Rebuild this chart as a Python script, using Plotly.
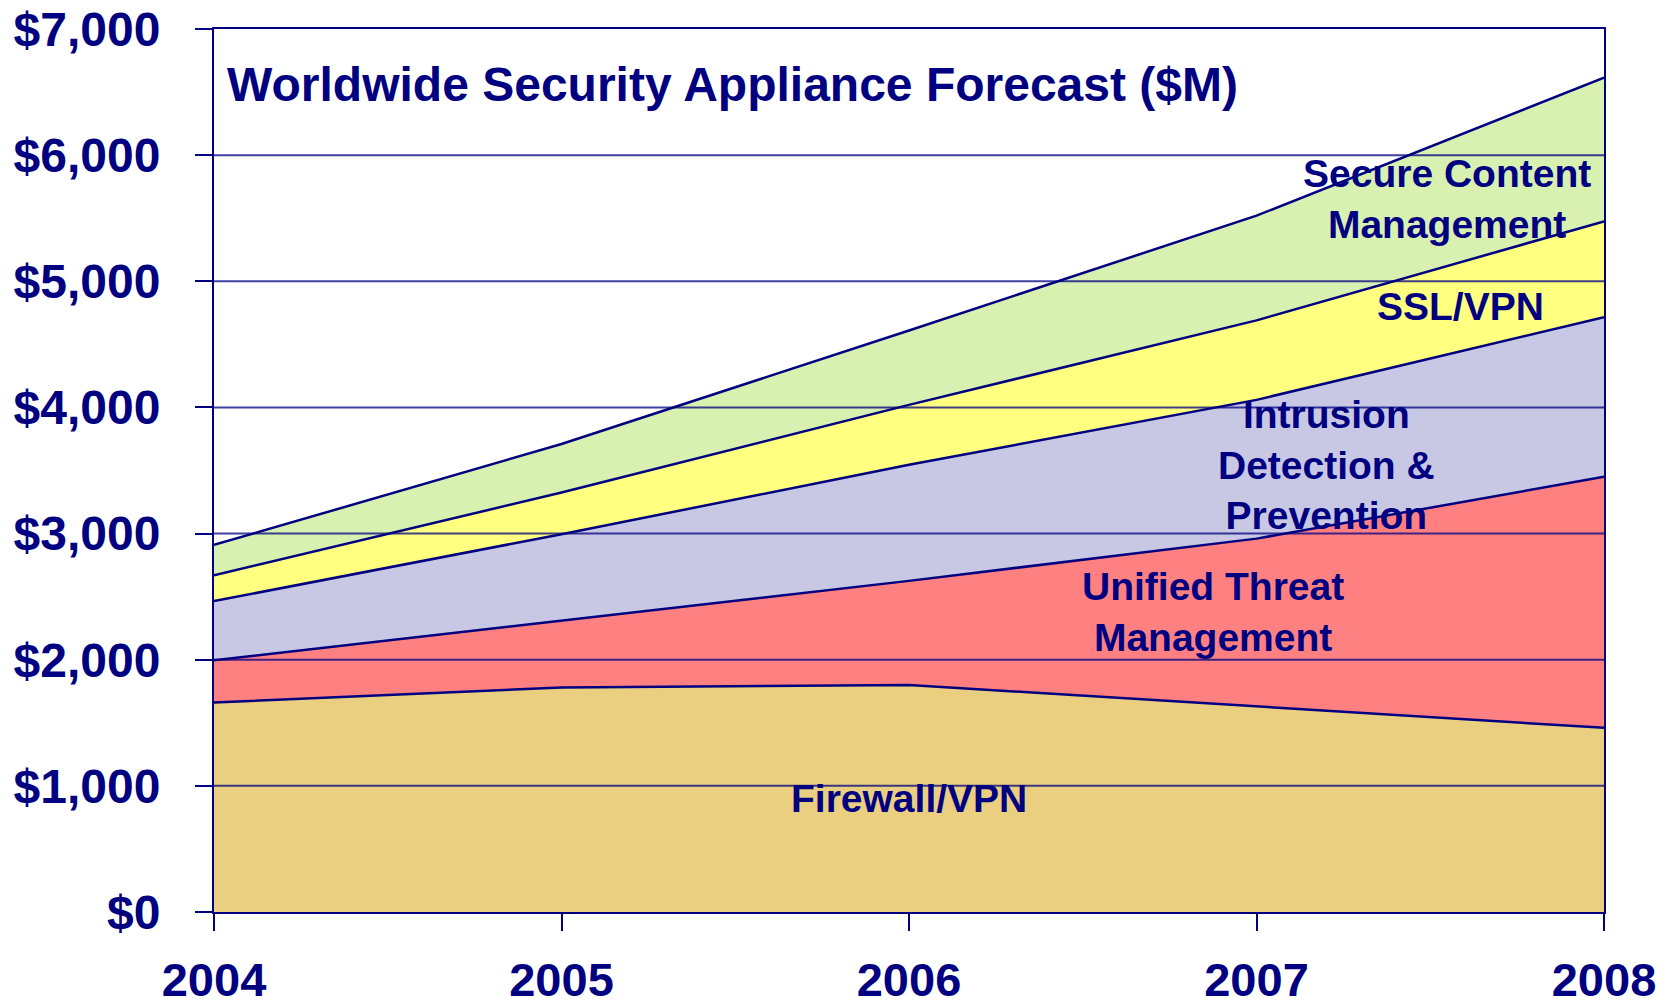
import plotly.graph_objects as go

# Worldwide security appliance revenue forecast, $M, stacked by segment
years = [2004, 2005, 2006, 2007, 2008]
firewall_vpn = [1660, 1780, 1800, 1630, 1460]
unified_threat_mgmt = [335, 530, 825, 1330, 1990]
intrusion_det_prev = [470, 685, 920, 1100, 1265]
ssl_vpn = [205, 330, 475, 630, 760]
secure_content_mgmt = [240, 385, 590, 830, 1140]

y_tick_values = [0, 1000, 2000, 3000, 4000, 5000, 6000, 7000]
y_tick_labels = ["$0", "$1,000", "$2,000", "$3,000", "$4,000", "$5,000", "$6,000", "$7,000"]
x_tick_labels = ["2004", "2005", "2006", "2007", "2008"]

NAVY = "#000080"
FONT = "Liberation Sans, Arial, sans-serif"

series = [
    ("Firewall/VPN", firewall_vpn, "#EBCF80"),
    ("Unified Threat Management", unified_threat_mgmt, "#FF8080"),
    ("Intrusion Detection & Prevention", intrusion_det_prev, "#C8C8E4"),
    ("SSL/VPN", ssl_vpn, "#FFFF80"),
    ("Secure Content Management", secure_content_mgmt, "#D8F0B0"),
]

fig = go.Figure()
for name, values, color in series:
    fig.add_trace(go.Scatter(
        x=years, y=values, name=name,
        mode="lines", stackgroup="forecast",
        line=dict(color=NAVY, width=2.5),
        fillcolor=color,
        showlegend=False,
    ))

# Horizontal grid drawn over the filled bands
for v in y_tick_values[1:-1]:
    fig.add_shape(type="line", xref="paper", x0=0, x1=1, yref="y", y0=v, y1=v,
                  line=dict(color="rgba(0,0,128,0.75)", width=2), layer="above")

# Segment labels placed inside their bands
band_labels = [
    ("Firewall/VPN", 2006.0, 900),
    ("Unified Threat<br>Management", 2006.875, 2380),
    ("Intrusion<br>Detection &amp;<br>Prevention", 2007.2, 3540),
    ("SSL/VPN", 2007.586, 4800),
    ("Secure Content<br>Management", 2007.548, 5655),
]
for text, x, y in band_labels:
    fig.add_annotation(x=x, y=y, xref="x", yref="y", text=text, showarrow=False,
                       xanchor="center", yanchor="middle", align="center",
                       font=dict(family=FONT, size=39, color=NAVY, weight="bold"))

fig.update_layout(
    width=1679, height=1007,
    margin=dict(l=214, r=75, t=29, b=95, pad=0),
    paper_bgcolor="white", plot_bgcolor="white",
    title=dict(text="Worldwide Security Appliance Forecast ($M)",
               xref="paper", yref="paper", x=0.0094, y=0.9377,
               xanchor="left", yanchor="middle",
               font=dict(family=FONT, size=48, color=NAVY, weight="bold")),
)

fig.update_xaxes(
    range=[2004, 2008], tickmode="array", tickvals=years, ticktext=x_tick_labels,
    showgrid=False, zeroline=False,
    showline=True, linecolor=NAVY, linewidth=2, mirror=True,
    ticks="outside", ticklen=17, tickwidth=2, tickcolor=NAVY,
    ticklabelstandoff=9,
    tickfont=dict(family=FONT, size=47, color=NAVY, weight="bold"),
    layer="above traces", automargin=False,
)
fig.update_yaxes(
    range=[0, 7000], tickmode="array", tickvals=y_tick_values, ticktext=y_tick_labels,
    showgrid=False, zeroline=False,
    showline=True, linecolor=NAVY, linewidth=2, mirror=True,
    ticks="outside", ticklen=17, tickwidth=2, tickcolor=NAVY,
    ticklabelstandoff=25,
    tickfont=dict(family=FONT, size=48, color=NAVY, weight="bold"),
    layer="above traces", automargin=False,
)

fig.write_html("out.html")
